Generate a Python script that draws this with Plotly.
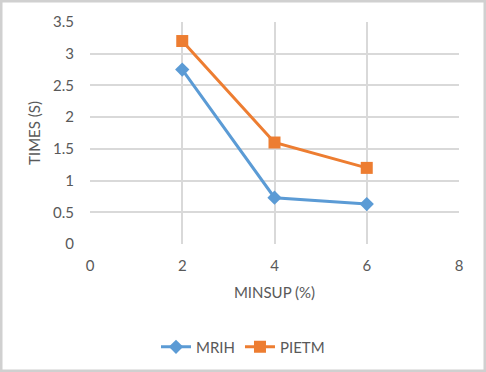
import plotly.graph_objects as go

minsup = [2, 4, 6]
mrih = [2.75, 0.73, 0.63]
pietm = [3.2, 1.6, 1.2]
x_ticks = [0, 2, 4, 6, 8]
y_ticks = [0, 0.5, 1, 1.5, 2, 2.5, 3, 3.5]
y_tick_labels = ["0", "0.5", "1", "1.5", "2", "2.5", "3", "3.5"]

font = "Lato, Carlito, Open Sans, sans-serif"
grid = "#d9d9d9"
txt = "#595959"

fig = go.Figure()
fig.add_trace(go.Scatter(x=minsup, y=mrih, name="MRIH", mode="lines+markers",
                         line=dict(color="#5b9bd5", width=3),
                         marker=dict(symbol="diamond", size=11, color="#5b9bd5")))
fig.add_trace(go.Scatter(x=minsup, y=pietm, name="PIETM", mode="lines+markers",
                         line=dict(color="#ed7d31", width=3),
                         marker=dict(symbol="square", size=12, color="#ed7d31")))

fig.update_layout(
    width=486, height=372,
    margin=dict(l=90, r=27, t=22, b=128, autoexpand=False),
    paper_bgcolor="white", plot_bgcolor="white",
    font=dict(family=font, size=15, color=txt),
    xaxis=dict(range=[0, 8], tickvals=x_ticks, showgrid=True, gridcolor=grid, gridwidth=1.5,
               zeroline=False, showline=False, ticks="outside", ticklen=8, tickcolor="rgba(0,0,0,0)",
               title=dict(text="MINSUP (%)", font=dict(size=15, color=txt), standoff=14),
               tickfont=dict(size=15, color=txt)),
    yaxis=dict(range=[0, 3.5], tickvals=y_ticks, ticktext=y_tick_labels, showgrid=True,
               gridcolor=grid, gridwidth=1.5, zeroline=False, showline=False,
               ticks="outside", ticklen=12, tickcolor="rgba(0,0,0,0)",
               title=dict(text="TIMES (S)", font=dict(size=15, color=txt), standoff=8),
               tickfont=dict(size=15, color=txt)),
    legend=dict(orientation="h", x=(243 - 90) / 369, xanchor="center", y=-0.39, yanchor="top",
                font=dict(size=15, color=txt)),
    showlegend=True,
    shapes=[dict(type="rect", xref="paper", yref="paper", x0=-89/369, x1=1 + 26/369,
                 y0=-127/222, y1=1 + 21/222, line=dict(color="#d0d0d0", width=3))],
)

fig.write_html("out.html", config={"displayModeBar": False},
               post_script="document.body.style.margin='0';document.body.style.padding='0';")
